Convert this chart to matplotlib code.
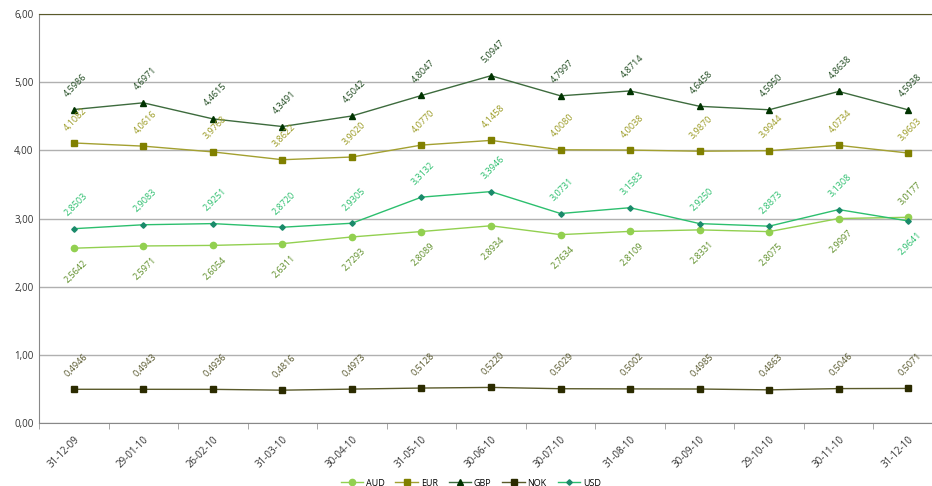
import matplotlib.pyplot as plt
import numpy as np

# datas e cotações
datas = ['31-12-09', '29-01-10', '26-02-10', '31-03-10', '30-04-10', '31-05-10', '30-06-10',
         '30-07-10', '31-08-10', '30-09-10', '29-10-10', '30-11-10', '31-12-10']
aud = [2.5642, 2.5971, 2.6054, 2.6311, 2.7293, 2.8089, 2.8934, 2.7634, 2.8109, 2.8331, 2.8075, 2.9997, 3.0177]
eur = [4.1082, 4.0616, 3.9768, 3.8622, 3.9020, 4.0770, 4.1458, 4.0080, 4.0038, 3.9870, 3.9944, 4.0734, 3.9603]
gbp = [4.5986, 4.6971, 4.4615, 4.3491, 4.5042, 4.8047, 5.0947, 4.7997, 4.8714, 4.6458, 4.5950, 4.8638, 4.5938]
nok = [0.4946, 0.4943, 0.4936, 0.4816, 0.4973, 0.5128, 0.5220, 0.5029, 0.5002, 0.4985, 0.4863, 0.5046, 0.5071]
usd = [2.8503, 2.9083, 2.9251, 2.8720, 2.9305, 3.3132, 3.3946, 3.0731, 3.1583, 2.9250, 2.8873, 3.1308, 2.9641]

plt.rcParams['font.family'] = ['Open Sans', 'DejaVu Sans']

fig = plt.figure(figsize=(9.32, 4.86), dpi=100)
ax = fig.add_axes([39 / 932, 63 / 486, 904 / 932, 409 / 486])

x = np.arange(len(datas))

series = [
    ('AUD', aud, '#92d050', '#92d050', 'o', 4.5, '#5f8f2a'),
    ('EUR', eur, '#a3a030', '#808000', 's', 4.5, '#9a9a22'),
    ('GBP', gbp, '#3d6b3d', '#003300', '^', 4.5, '#1f4a1f'),
    ('NOK', nok, '#5a5a2a', '#2b2b00', 's', 4.5, '#55552a'),
    ('USD', usd, '#2cbf6e', '#1a8a6a', 'D', 2.8, '#2cbf6e'),
]

for nome, vals, cor, cor_m, mk, ms, cor_txt in series:
    ax.plot(x, vals, color=cor, lw=1, marker=mk, markersize=ms,
            markerfacecolor=cor_m, markeredgecolor=cor_m, label=nome, zorder=3)

# rótulos dos valores
for nome, vals, cor, cor_m, mk, ms, cor_txt in series:
    for i, v in enumerate(vals):
        abaixo = False
        if nome == 'AUD' and i < len(vals) - 1:
            abaixo = True
        if nome == 'USD' and i == len(vals) - 1:
            abaixo = True
        dy = -23 if abaixo else 24
        ax.annotate(f'{v:.4f}'.replace('.', ','), (i, v), xytext=(2, dy),
                    textcoords='offset pixels', ha='center', va='center',
                    rotation=45, fontsize=6.5, color=cor_txt)

ax.set_xlim(-0.5, len(datas) - 0.5)
ax.set_ylim(0, 6)
ax.set_yticks(np.arange(0, 7, 1))
ax.set_yticklabels([f'{t:.2f}'.replace('.', ',') for t in range(7)], fontsize=7, color='#333333')
ax.set_xticks(x)
ax.set_xticklabels(datas, rotation=45, ha='right', rotation_mode='anchor', fontsize=7, color='#333333')
ax.tick_params(axis='x', length=0, pad=8)
ax.set_xticks(np.arange(-0.5, len(datas), 1), minor=True)
ax.tick_params(axis='x', which='minor', length=4, color='#999999')
ax.tick_params(axis='y', length=0, pad=4)

ax.grid(axis='y', color='#b0b0b0', lw=1)
ax.set_axisbelow(True)
ax.spines['top'].set_color('#5a5a2a')
ax.spines['left'].set_color('#888888')
ax.spines['bottom'].set_color('#888888')
ax.spines['right'].set_visible(False)

fig.legend(loc='lower center', bbox_to_anchor=(0.505, -0.02), ncol=5, frameon=False,
           fontsize=6.5, handlelength=2.5, columnspacing=1.2, handletextpad=0.3)

plt.savefig('out.png', dpi=100)
